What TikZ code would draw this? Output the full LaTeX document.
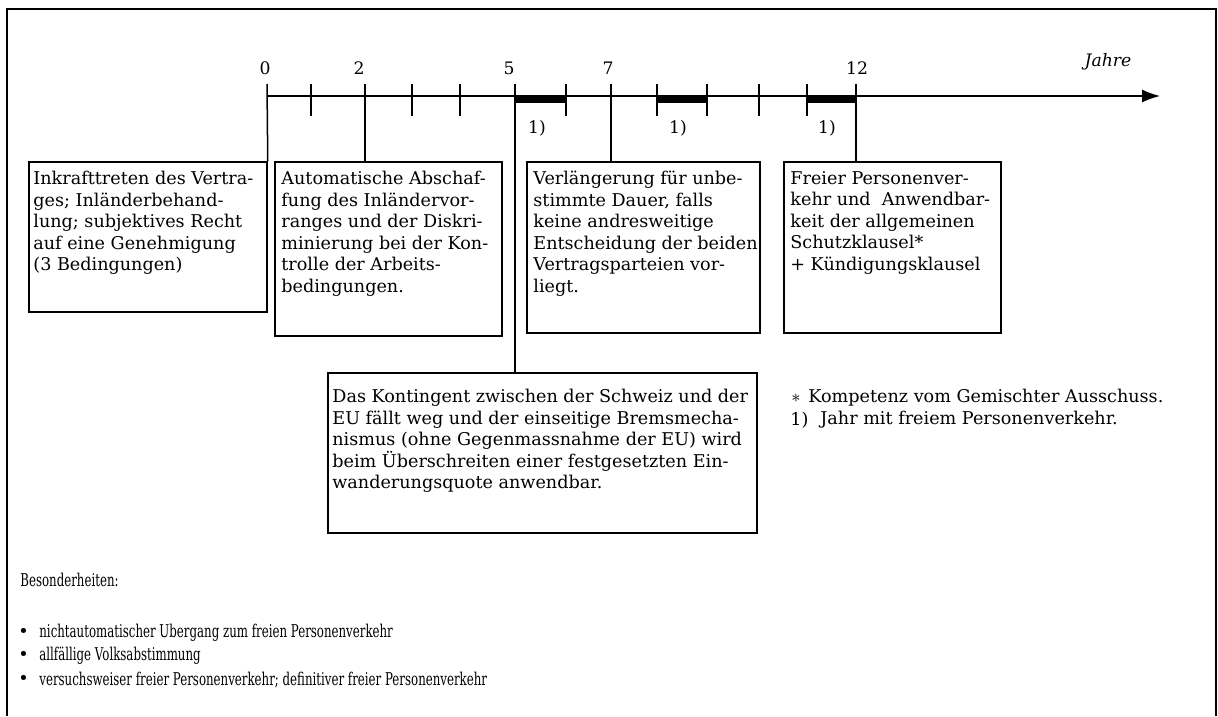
\documentclass[tikz,border=0pt]{standalone}
\usepackage{fontspec}
\setmainfont{DejaVu Serif}
\usepackage{tikz}
\usetikzlibrary{arrows.meta, positioning, fit}
\tikzstyle{boxtext} = [anchor=north west, inner sep=0pt, align=left, font=\fontsize{8.8}{10.75}\selectfont]
\tikzstyle{frame} = [draw, line width=0.75pt, inner sep=0pt]
\tikzstyle{yearlbl} = [inner sep=0pt, font=\fontsize{8.6}{10}\selectfont]
\tikzstyle{tick} = [line width=0.75pt]
\newcommand{\squeeze}[1]{\scalebox{0.67}[1]{#1}}

\begin{document}
\begin{tikzpicture}[x=0.5pt, y=-0.5pt]
\useasboundingbox (0,0) rectangle (1218,716);
% Outer frame
\draw[line width=1.2pt] (7,716) -- (7,9) -- (1216,9) -- (1216,716);

% Time axis
\coordinate (start) at (267,96);
\coordinate (end) at (1160,96);
\draw[tick, -{Latex[length=9pt,width=6.5pt]}] (start) -- (end);
\node[yearlbl, font=\itshape\fontsize{8.6}{10}\selectfont] (unit) at (1108,62) {Jahre};

% Minor ticks
\foreach \x in {311,412,460,566,657,707,759,807}
  \draw[tick] (\x,84) -- (\x,116);

% Years with free movement
\fill (515,96) rectangle (566,103);
\fill (657,96) rectangle (707,103);
\fill (807,96) rectangle (856,103);
\foreach \x in {537,678,827}
  \node[yearlbl] (fm\x) at (\x,128) {1)};

% Major ticks and labels
\coordinate (y0) at (267,84);
\coordinate (y2) at (365,84);
\coordinate (y5) at (515,84);
\coordinate (y7) at (611,84);
\coordinate (y12) at (856,84);
\node[yearlbl] (l0) at (265,68) {0};
\node[yearlbl] (l2) at (359,68) {2};
\node[yearlbl] (l5) at (509,68) {5};
\node[yearlbl] (l7) at (608,68) {7};
\node[yearlbl] (l12) at (857,68) {12};

% Box: year 0
\node[boxtext] (txt1) at (33,171) {Inkrafttreten des Vertra-\\ges; Inländerbehand-\\lung; subjektives Recht\\auf eine Genehmigung\\(3 Bedingungen)};
\node[frame, fit={(29,162) (267,312)}] (box1) {};
\draw[tick] (y0) -- (box1.north east);

% Box: year 2
\node[boxtext] (txt2) at (281,171) {Automatische Abschaf-\\fung des Inländervor-\\ranges und der Diskri-\\minierung bei der Kon-\\trolle der Arbeits-\\bedingungen.};
\node[frame, fit={(275,162) (502,336)}] (box2) {};
\draw[tick] (y2) -- (y2 |- box2.north);

% Box: year 7
\node[boxtext] (txt3) at (533,171) {Verlängerung für unbe-\\stimmte Dauer, falls\\keine andresweitige\\Entscheidung der beiden\\Vertragsparteien vor-\\liegt.};
\node[frame, fit={(527,162) (760,333)}] (box3) {};
\draw[tick] (y7) -- (y7 |- box3.north);

% Box: year 12
\node[boxtext] (txt4) at (790,171) {Freier Personenver-\\kehr und~~Anwendbar-\\keit der allgemeinen\\Schutzklausel*\\+ Kündigungsklausel};
\node[frame, fit={(784,162) (1001,333)}] (box4) {};
\draw[tick] (y12) -- (y12 |- box4.north);

% Box: year 5
\node[boxtext] (txt5) at (332,389) {Das Kontingent zwischen der Schweiz und der\\EU fällt weg und der einseitige Bremsmecha-\\nismus (ohne Gegenmassnahme der EU) wird\\beim Überschreiten einer festgesetzten Ein-\\wanderungsquote anwendbar.};
\node[frame, fit={(328,373) (757,533)}] (box5) {};
\draw[tick] (y5) -- (y5 |- box5.north);

% Notes
\node[boxtext, anchor=west] (star) at (791,398) {$\ast$};
\node[boxtext, anchor=west] (note1) at (808,398) {Kompetenz vom Gemischter Ausschuss.};
\node[boxtext, anchor=west] (mark) at (790,420) {1)};
\node[boxtext, anchor=west] (note2) at (820,420) {Jahr mit freiem Personenverkehr.};

% Besonderheiten
\node[boxtext, anchor=west] (besond) at (20,580) {\squeeze{Besonderheiten:}};
\node[boxtext, anchor=west] (dot1) at (18,633) {\textbullet};
\node[boxtext, anchor=west] (item1) at (39,633) {\squeeze{nichtautomatischer Ubergang zum freien Personenverkehr}};
\node[boxtext, anchor=west] (dot2) at (18,656) {\textbullet};
\node[boxtext, anchor=west] (item2) at (39,656) {\squeeze{allfällige Volksabstimmung}};
\node[boxtext, anchor=west] (dot3) at (18,680) {\textbullet};
\node[boxtext, anchor=west] (item3) at (39,680) {\squeeze{versuchsweiser freier Personenverkehr; definitiver freier Personenverkehr}};
\end{tikzpicture}
\end{document}
